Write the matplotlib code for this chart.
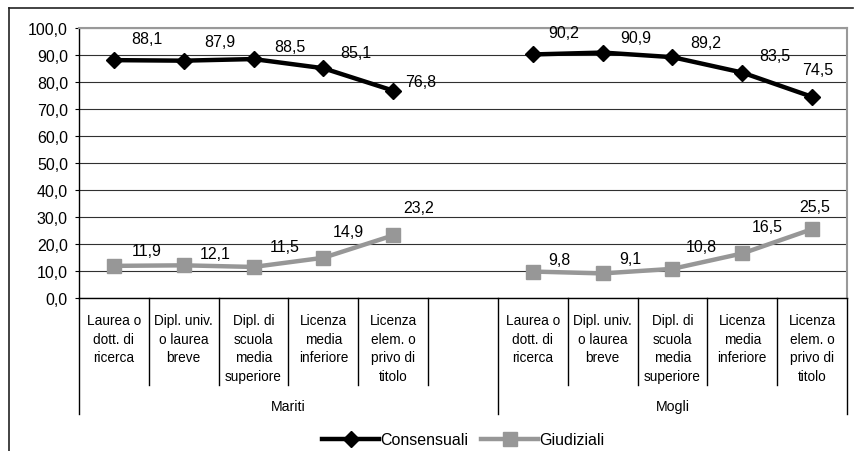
import numpy as np
import matplotlib.pyplot as plt
from matplotlib.lines import Line2D

plt.rcParams['font.family'] = ['Liberation Sans', 'DejaVu Sans']

# ---- data ----
education = ["Laurea o\ndott. di\nricerca",
             "Dipl. univ.\no laurea\nbreve",
             "Dipl. di\nscuola\nmedia\nsuperiore",
             "Licenza\nmedia\ninferiore",
             "Licenza\nelem. o\nprivo di\ntitolo"]
groups = ["Mariti", "Mogli"]

consensuali_mariti = [88.1, 87.9, 88.5, 85.1, 76.8]
consensuali_mogli = [90.2, 90.9, 89.2, 83.5, 74.5]
giudiziali_mariti = [11.9, 12.1, 11.5, 14.9, 23.2]
giudiziali_mogli = [9.8, 9.1, 10.8, 16.5, 25.5]

yticks = np.arange(0, 101, 10)

# label offsets in pixels (dx, dy) relative to each marker
cons_offsets = [(33, 22), (36, 19), (36, 13), (32, 16), (28, 9),
                (31, 22), (33, 15), (33, 15), (33, 17), (6, 27)]
giud_offsets = [(33, 15), (31, 12), (31, 20), (25, 26), (25, 28),
                (27, 12), (28, 15), (29, 22), (25, 27), (3, 23)]

# ---- layout: 5 Mariti slots, one empty slot, 5 Mogli slots ----
n = len(education)
cons = consensuali_mariti + [np.nan] + consensuali_mogli
giud = giudiziali_mariti + [np.nan] + giudiziali_mogli
x = np.arange(len(cons))

W, H = 856, 452
fig = plt.figure(figsize=(W / 100, H / 100), dpi=100)
ax = fig.add_axes([79 / W, 1 - 299 / H, (847 - 79) / W, (299 - 29) / H])

ax.plot(x, cons, color="black", lw=3.2, marker="D", ms=8.5,
        label="Consensuali", zorder=4)
ax.plot(x, giud, color="#979797", lw=3.2, marker="s", ms=9.5,
        label="Giudiziali", zorder=3)

def fmt(v):
    return f"{v:.1f}".replace(".", ",")

xs_valid = [i for i in x if not np.isnan(cons[i])]
for k, i in enumerate(xs_valid):
    for series, offs in ((cons, cons_offsets), (giud, giud_offsets)):
        dx, dy = offs[k]
        ax.annotate(fmt(series[i]), (i, series[i]), xytext=(dx, dy),
                    textcoords="offset pixels", ha="center", va="center",
                    fontsize=11.5, zorder=5)

ax.set_xlim(-0.5, len(cons) - 0.5)
ax.set_ylim(0, 100)
ax.set_yticks(yticks)
ax.set_yticklabels([fmt(v) for v in yticks], fontsize=11.5)
ax.tick_params(axis="y", direction="out", length=3, width=0.8, pad=5)
ax.set_xticks([])
ax.grid(axis="y", color="#303030", lw=0.8)
ax.set_axisbelow(True)
for side in ("top", "right"):
    ax.spines[side].set_color("#999999")
    ax.spines[side].set_linewidth(1.5)
ax.spines["left"].set_linewidth(1.0)
ax.spines["bottom"].set_linewidth(1.0)

# ---- two-level category axis ----
trans = ax.get_xaxis_transform()
px = 1 / 270.0
cat_bottom = -(386 - 299) * px
grp_bottom = -(415 - 299) * px
for b in np.arange(-0.5, len(cons), 1.0):
    is_group = b in (-0.5, len(cons) - 0.5, n + 0.5)
    ax.plot([b, b], [0, grp_bottom if is_group else cat_bottom],
            transform=trans, color="black", lw=1.0, clip_on=False)

for k, i in enumerate(xs_valid):
    ax.text(i, -(314 - 299) * px, education[k % n], transform=trans,
            ha="center", va="top", fontsize=9.8, linespacing=1.42)

group_centers = [(-0.5 + n + 0.5) / 2, (n + 0.5 + len(cons) - 0.5) / 2]
for g, c in zip(groups, group_centers):
    ax.text(c, -(407 - 299) * px, g, transform=trans, ha="center",
            va="center", fontsize=10.2)

# ---- legend ----
fig.legend(loc="center", bbox_to_anchor=(463 / W, 1 - 441 / H), ncol=2,
           frameon=False, fontsize=11.5, handlelength=3.6,
           handletextpad=0.05, columnspacing=0.8, borderaxespad=0)

# ---- outer chart frame (top and left edges visible) ----
fig.add_artist(Line2D([8.5 / W, 853 / W], [1 - 8.5 / H, 1 - 8.5 / H],
                      transform=fig.transFigure, color="#222222", lw=1.2))
fig.add_artist(Line2D([8.5 / W, 8.5 / W], [1 - 8.5 / H, 0],
                      transform=fig.transFigure, color="#222222", lw=1.2))

fig.savefig("out.png", dpi=100)
